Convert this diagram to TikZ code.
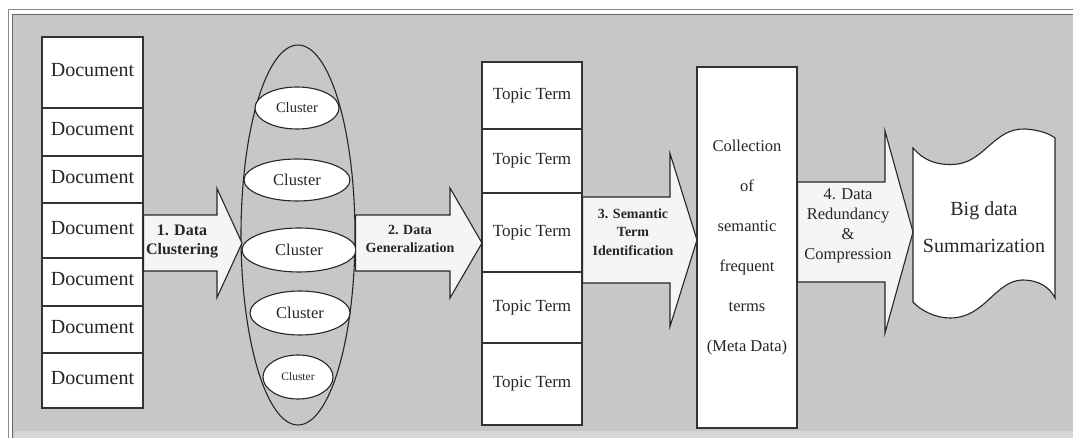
\documentclass[tikz,border=0pt]{standalone}
\usepackage{fontspec}
\setmainfont{Liberation Serif}
\usetikzlibrary{shapes.geometric,calc}

\begin{document}
\begin{tikzpicture}[x=1pt,y=-1pt,
  docbox/.style={draw=black!80, fill=white, line width=1.1pt, minimum width=101pt,
    inner sep=0pt, text depth=6pt, text=black!85, font=\fontsize{20}{22}\selectfont},
  topicbox/.style={draw=black!80, fill=white, line width=1.1pt, minimum width=100pt,
    inner sep=0pt, text=black!85, font=\fontsize{17}{20}\selectfont},
  clusterbox/.style={ellipse, draw=black!85, fill=white, line width=1.1pt, inner sep=0pt,
    text=black!85},
  flowarrow/.style={draw=black!85, fill=white!96!black, line width=1.1pt, line join=miter},
  steplabel/.style={align=center, text=black!85, inner sep=0pt}]
\newcommand\blockarrow[5]{%
  \draw[flowarrow] let \p1=(#1), \p2=(#2) in
    (\x1,\y2+#3) -- (\x2-#5,\y2+#3) -- (\x2-#5,\y2+#4) -- (\x2,\y2)
    -- (\x2-#5,\y2-#4) -- (\x2-#5,\y2-#3) -- (\x1,\y2-#3) -- cycle;}

\useasboundingbox (0,0) rectangle (1073,438);
\fill[white] (0,0) rectangle (1073,438);
\draw[black!45, line width=1pt] (8,10) rectangle (1090,460);
\draw[black!60, fill=black!22, line width=1.2pt] (12.5,14.5) rectangle (1090,460);
\fill[black!16] (13.5,431) rectangle (1073,438);

\node[docbox, minimum height=71pt] (doc1) at (92.5,72.5) {Document};
\node[docbox, minimum height=48pt] (doc2) at (92.5,132) {Document};
\node[docbox, minimum height=47pt] (doc3) at (92.5,179.5) {Document};
\node[docbox, minimum height=55pt] (doc4) at (92.5,230.5) {Document};
\node[docbox, minimum height=48pt] (doc5) at (92.5,282) {Document};
\node[docbox, minimum height=47pt] (doc6) at (92.5,329.5) {Document};
\node[docbox, minimum height=55pt] (doc7) at (92.5,380.5) {Document};

\node[ellipse, draw=black!85, line width=1.1pt, minimum width=114pt, minimum height=380pt] (group) at (298,235) {};
\node[clusterbox, minimum width=84pt, minimum height=42pt, font=\fontsize{14.5}{16}\selectfont] (cl1) at (297,108) {Cluster};
\node[clusterbox, minimum width=106pt, minimum height=42pt, font=\fontsize{16.5}{18}\selectfont] (cl2) at (297,180) {Cluster};
\node[clusterbox, minimum width=114pt, minimum height=44pt, font=\fontsize{16.5}{18}\selectfont] (cl3) at (299,250) {Cluster};
\node[clusterbox, minimum width=100pt, minimum height=44pt, font=\fontsize{16.5}{18}\selectfont] (cl4) at (300,313) {Cluster};
\node[clusterbox, minimum width=70pt, minimum height=44pt, font=\fontsize{11.5}{13}\selectfont] (cl5) at (298,377) {Cluster};

\node[topicbox, minimum height=67pt] (topic1) at (532,95.5) {Topic Term};
\node[topicbox, minimum height=64pt] (topic2) at (532,161) {Topic Term};
\node[topicbox, minimum height=79pt] (topic3) at (532,232.5) {Topic Term};
\node[topicbox, minimum height=71pt] (topic4) at (532,307.5) {Topic Term};
\node[topicbox, minimum height=82pt] (topic5) at (532,384) {Topic Term};

\node[draw=black!80, fill=white, line width=1.1pt, minimum width=100pt, minimum height=361pt,
  align=center, text=black!85, font=\fontsize{16.5}{40}\selectfont] (meta) at (747,247.5)
  {Collection\\of\\semantic\\frequent\\terms\\(Meta Data)};

% wavy sheet for the summary
\draw[draw=black!85, fill=white, line width=1.1pt]
  (913,148) .. controls (925,162) and (940,166) .. (958,164)
  .. controls (985,160) and (995,128) .. (1025,129)
  .. controls (1040,130) and (1050,134) .. (1055,138)
  -- (1055,298) .. controls (1050,288) and (1040,280) .. (1022,280)
  .. controls (995,281) and (985,318) .. (950,318)
  .. controls (935,318) and (920,310) .. (913,302) -- cycle;
\node[align=center, inner sep=0pt, text=black!85, font=\fontsize{20}{37}\selectfont] (summary) at (984,227)
  {Big data\\Summarization};

\coordinate (tip1) at (242,243);
\coordinate (tip2) at (482,243);
\coordinate (tip3) at (697,240);
\coordinate (tip4) at (913,232);
\blockarrow{doc4.east}{tip1}{28pt}{54.5pt}{25pt}
\blockarrow{group.east}{tip2}{28pt}{55pt}{32pt}
\blockarrow{topic3.east}{tip3}{43pt}{86.5pt}{27pt}
\blockarrow{meta.east}{tip4}{50pt}{101pt}{28pt}

\node[steplabel, font=\bfseries\fontsize{16}{19}\selectfont] (lab1) at (182,241) {1. Data\\Clustering};
\node[steplabel, font=\bfseries\fontsize{14}{18}\selectfont] (lab2) at (410,239) {2. Data\\Generalization};
\node[steplabel, font=\bfseries\fontsize{14}{18.5}\selectfont] (lab3) at (633,232) {3. Semantic\\Term\\Identification};
\node[steplabel, font=\fontsize{16.5}{20}\selectfont] (lab4) at (848,226) {4. Data\\Redundancy\\\&\\Compression};

\end{tikzpicture}
\end{document}
